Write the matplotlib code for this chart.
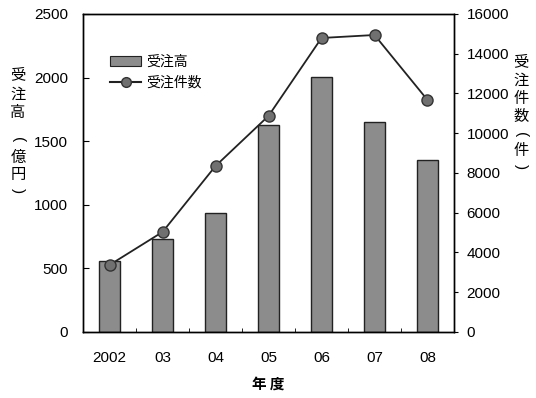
import matplotlib
matplotlib.use("Agg")
import matplotlib.pyplot as plt
from matplotlib.lines import Line2D
from matplotlib.patches import Patch

plt.rcParams['font.family'] = ['Liberation Sans', 'Noto Sans CJK JP', 'DejaVu Sans']

years = ['2002', '03', '04', '05', '06', '07', '08']
juchu_daka = [555, 730, 935, 1630, 2005, 1650, 1355]      # 億円
juchu_kensu = [3370, 5030, 8350, 10870, 14790, 14940, 11670]  # 件

fig = plt.figure(figsize=(5.36, 3.98), dpi=100)
ax = fig.add_axes([0.155, 0.166, 0.692, 0.799])
x = range(len(years))

ax.bar(x, juchu_daka, width=0.4, color='#8c8c8c', edgecolor='#222222', linewidth=1.0)
ax.set_xlim(-0.5, 6.5)
ax.set_ylim(0, 2500)
ax.set_yticks([0, 500, 1000, 1500, 2000, 2500])
ax.set_xticks(list(x))
ax.set_xticklabels(years)
ax.set_xticks([i + 0.5 for i in range(6)], minor=True)
ax.tick_params(axis='x', which='major', length=0, pad=14, labelsize=11)
ax.tick_params(axis='x', which='minor', length=3, direction='in')
ax.tick_params(axis='y', direction='in', length=4, labelsize=11, pad=11)

ax2 = ax.twinx()
ax2.plot(x, juchu_kensu, color='#222222', linewidth=1.3, marker='o',
         markersize=8, markerfacecolor='#707070', markeredgecolor='#333333')
ax2.set_ylim(0, 16000)
ax2.set_yticks(range(0, 16001, 2000))
ax2.tick_params(axis='y', direction='out', length=3, labelsize=11, pad=6)

for a in (ax, ax2):
    for s in a.spines.values():
        s.set_linewidth(1.0)

cjk = ['Noto Sans CJK JP']


def vertical_label(xpix, chars, ypix):
    # stack characters top to bottom, parentheses turned for vertical writing
    for c, yp in zip(chars, ypix):
        if c in '()':
            fig.text(xpix / 536, 1 - yp / 398, c, family=['Liberation Sans'],
                     fontsize=11, ha='center', va='center', rotation=-90)
        else:
            fig.text(xpix / 536, 1 - yp / 398, c, family=cjk, fontsize=11,
                     ha='center', va='center')


vertical_label(18, '受注高(億円)', [75, 94, 113, 140, 157, 174, 191])
vertical_label(521, '受注件数(件)', [62, 80, 98, 116, 135, 151, 167])
fig.text(0.5, 0.035, '年 度', family=cjk, fontsize=10.5, ha='center', va='center',
         fontweight='bold')

handles = [Patch(facecolor='#8c8c8c', edgecolor='#222222', linewidth=0.8),
           Line2D([], [], color='#222222', marker='o', markersize=7,
                  markerfacecolor='#707070', markeredgecolor='#333333')]
leg = ax.legend(handles, ['受注高', '受注件数'], loc='upper left',
                bbox_to_anchor=(0.04, 0.91), frameon=False,
                prop={'family': cjk, 'size': 10}, handlelength=2.2,
                handletextpad=0.4, labelspacing=0.5)

fig.savefig('out.png', dpi=100)
